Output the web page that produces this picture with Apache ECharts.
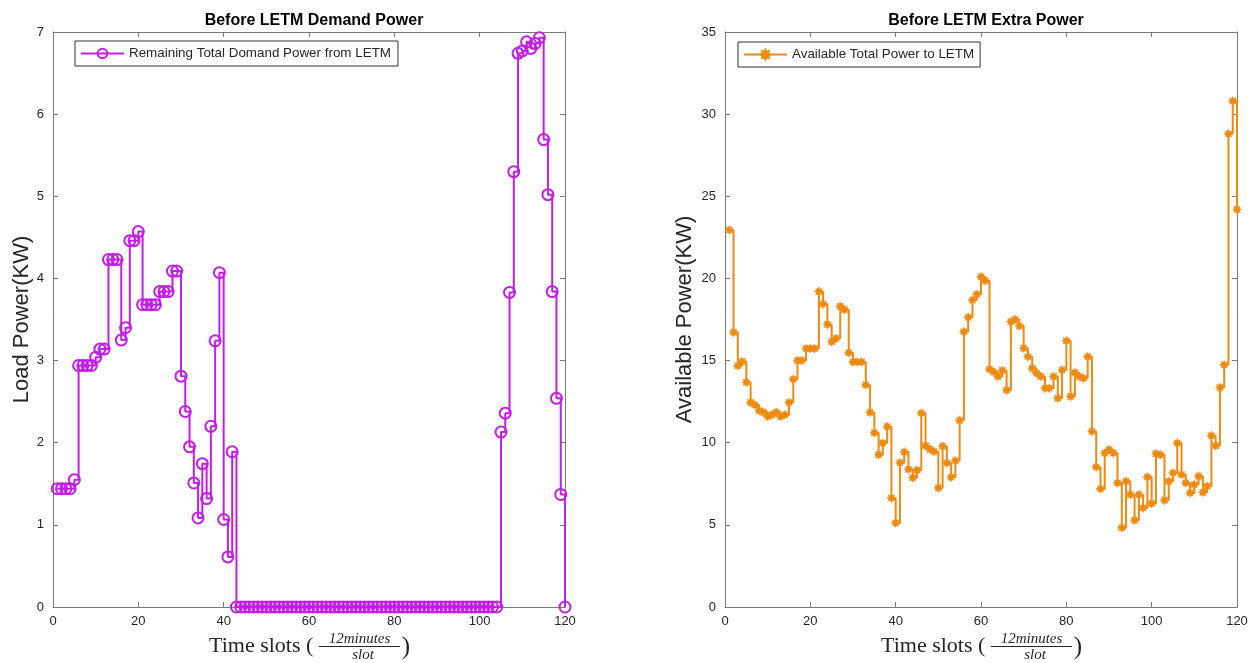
<!DOCTYPE html>
<html>
<head>
<meta charset="utf-8">
<script src="https://cdn.jsdelivr.net/npm/echarts@6/dist/echarts.min.js"></script>
<style>
html,body{margin:0;padding:0;background:#fff;}
#chart{width:1255px;height:663px;}
</style>
</head>
<body>
<div id="chart"></div>
<script>
// ---------- DATA ----------
const leftTitle = 'Before LETM Demand Power';
const rightTitle = 'Before LETM Extra Power';
const leftSeriesName = 'Remaining Total Domand Power from LETM';
const rightSeriesName = 'Available Total Power to LETM';
const leftYName = 'Load Power(KW)';
const rightYName = 'Available Power(KW)';
const xLabelMain = 'Time slots (';
const xLabelNum = '12minutes';
const xLabelDen = 'slot';

// time slots 1..120
const demandPower = [
  1.44, 1.44, 1.44, 1.44, 1.55, 2.94, 2.94, 2.94, 2.94, 3.04,
  3.14, 3.14, 4.23, 4.23, 4.23, 3.25, 3.40, 4.46, 4.46, 4.57,
  3.68, 3.68, 3.68, 3.68, 3.84, 3.84, 3.84, 4.09, 4.09, 2.81,
  2.38, 1.95, 1.51, 1.085, 1.745, 1.32, 2.20, 3.24, 4.07, 1.065,
  0.61, 1.89, 0, 0, 0, 0, 0, 0, 0, 0,
  0, 0, 0, 0, 0, 0, 0, 0, 0, 0,
  0, 0, 0, 0, 0, 0, 0, 0, 0, 0,
  0, 0, 0, 0, 0, 0, 0, 0, 0, 0,
  0, 0, 0, 0, 0, 0, 0, 0, 0, 0,
  0, 0, 0, 0, 0, 0, 0, 0, 0, 0,
  0, 0, 0, 0, 2.13, 2.36, 3.83, 5.30, 6.74, 6.77,
  6.88, 6.80, 6.86, 6.93, 5.69, 5.02, 3.84, 2.54, 1.37, 0
];

const extraPower = [
  22.95, 16.72, 14.68, 14.94, 13.68, 12.45, 12.30, 11.95, 11.85, 11.60,
  11.70, 11.85, 11.60, 11.70, 12.45, 13.87, 15.00, 15.00, 15.73, 15.73,
  15.73, 19.20, 18.45, 17.20, 16.15, 16.35, 18.30, 18.10, 15.48, 14.92,
  14.92, 14.92, 13.52, 11.84, 10.60, 9.27, 9.98, 10.98, 6.64, 5.12,
  8.78, 9.43, 8.38, 7.87, 8.32, 11.80, 9.82, 9.60, 9.46, 7.25,
  9.78, 8.77, 7.90, 8.91, 11.36, 16.76, 17.63, 18.68, 19.03, 20.10,
  19.86, 14.47, 14.30, 14.03, 14.40, 13.20, 17.37, 17.50, 17.10, 15.75,
  15.24, 14.53, 14.23, 14.03, 13.32, 13.32, 14.03, 12.71, 14.43, 16.21,
  12.81, 14.27, 14.03, 13.93, 15.24, 10.69, 8.52, 7.19, 9.37, 9.57,
  9.37, 7.55, 4.82, 7.65, 6.84, 5.28, 6.84, 6.03, 7.91, 6.30,
  9.33, 9.27, 6.50, 7.65, 8.16, 9.98, 8.06, 7.55, 6.94, 7.45,
  7.96, 6.98, 7.35, 10.43, 9.82, 13.36, 14.74, 28.80, 30.80, 24.20
];

// ---------- STYLE ----------
const purple = '#c21ee6';
const orange = '#ee8a10';
const axisCol = '#7a7a7a';
const textCol = '#262626';
const sans = '"Liberation Sans", Arial, sans-serif';
const serif = '"Liberation Serif", "Times New Roman", serif';

// asterisk-like star symbol
function starPath(n) {
  let d = '';
  for (let i = 0; i < n * 2; i++) {
    const r = (i % 2 === 0) ? 10 : 6;
    const a = Math.PI * i / n - Math.PI / 2;
    const x = (10 + r * Math.cos(a)).toFixed(2);
    const y = (10 + r * Math.sin(a)).toFixed(2);
    d += (i === 0 ? 'M' : 'L') + x + ' ' + y + ' ';
  }
  return 'path://' + d + 'Z';
}
const starSym = starPath(8);

const grids = [
  {left: 53, right: 690, top: 32, bottom: 56},
  {left: 725, right: 18, top: 32, bottom: 56}
];

function xAxisPair(gi) {
  const base = {
    type: 'value', min: 0, max: 120, interval: 20, gridIndex: gi,
    axisLine: {show: true, onZero: false, lineStyle: {color: axisCol, width: 1}},
    axisTick: {show: true, inside: true, length: 5, lineStyle: {color: axisCol}},
    splitLine: {show: false}
  };
  return [
    Object.assign({}, base, {position: 'bottom',
      axisLabel: {color: textCol, fontSize: 13, fontFamily: sans, margin: 8}}),
    Object.assign({}, base, {position: 'top', axisLabel: {show: false}})
  ];
}
function yAxisPair(gi, max, interval, name, gap) {
  const base = {
    type: 'value', min: 0, max: max, interval: interval, gridIndex: gi,
    axisLine: {show: true, onZero: false, lineStyle: {color: axisCol, width: 1}},
    axisTick: {show: true, inside: true, length: 5, lineStyle: {color: axisCol}},
    splitLine: {show: false}
  };
  return [
    Object.assign({}, base, {position: 'left',
      name: name, nameLocation: 'middle', nameGap: gap,
      nameTextStyle: {color: textCol, fontSize: 22, fontFamily: sans},
      axisLabel: {color: textCol, fontSize: 13, fontFamily: sans, margin: 9}}),
    Object.assign({}, base, {position: 'right', axisLabel: {show: false}})
  ];
}

function xLabelGraphic(ox) {
  return [
    {type: 'text', left: 209 + ox, top: 635,
     style: {text: xLabelMain, font: '22px ' + serif, fill: textCol}},
    {type: 'text', x: 359.5 + ox, y: 639,
     style: {text: xLabelNum, font: 'italic 15px ' + serif, fill: textCol,
             textAlign: 'center', textVerticalAlign: 'middle'}},
    {type: 'line', shape: {x1: 319 + ox, y1: 646.5, x2: 400 + ox, y2: 646.5},
     style: {stroke: textCol, lineWidth: 1}},
    {type: 'text', x: 363 + ox, y: 655,
     style: {text: xLabelDen, font: 'italic 15px ' + serif, fill: textCol,
             textAlign: 'center', textVerticalAlign: 'middle'}},
    {type: 'text', x: 406 + ox, y: 647,
     style: {text: ')', font: '25px ' + serif, fill: textCol,
             textAlign: 'center', textVerticalAlign: 'middle'}}
  ];
}

const chart = echarts.init(document.getElementById('chart'), null, {renderer: 'canvas'});
const xs = xAxisPair(0).concat(xAxisPair(1));
const ys = yAxisPair(0, 7, 1, leftYName, 20).concat(yAxisPair(1, 35, 5, rightYName, 29));

chart.setOption({
  backgroundColor: '#ffffff',
  animation: false,
  title: [
    {text: leftTitle, left: 309, top: 8, textAlign: 'center',
     textStyle: {fontSize: 16, fontWeight: 'bold', color: '#000', fontFamily: sans}},
    {text: rightTitle, left: 981, top: 8, textAlign: 'center',
     textStyle: {fontSize: 16, fontWeight: 'bold', color: '#000', fontFamily: sans}}
  ],
  legend: [
    {data: [leftSeriesName], left: 75, top: 41, orient: 'vertical',
     padding: [6, 7, 6, 5], itemWidth: 43, itemHeight: 12,
     borderColor: '#333', borderWidth: 1, backgroundColor: '#fff', borderRadius: 0,
     textStyle: {fontSize: 13.4, color: textCol, fontFamily: sans}},
    {data: [rightSeriesName], left: 738, top: 42, orient: 'vertical',
     padding: [6, 6, 6, 5], itemWidth: 43, itemHeight: 12,
     borderColor: '#333', borderWidth: 1, backgroundColor: '#fff', borderRadius: 0,
     textStyle: {fontSize: 13.4, color: textCol, fontFamily: sans}}
  ],
  grid: grids,
  xAxis: xs,
  yAxis: ys,
  graphic: xLabelGraphic(0).concat(xLabelGraphic(672)),
  series: [
    {
      name: leftSeriesName, type: 'line', xAxisIndex: 0, yAxisIndex: 0,
      step: 'end',
      data: demandPower.map((v, i) => [i + 1, v]),
      symbol: 'circle', symbolSize: 11,
      color: purple,
      lineStyle: {color: purple, width: 2},
      itemStyle: {color: 'rgba(255,255,255,0)', borderColor: purple, borderWidth: 2}
    },
    {
      name: rightSeriesName, type: 'line', xAxisIndex: 2, yAxisIndex: 2,
      step: 'end',
      data: extraPower.map((v, i) => [i + 1, v]),
      symbol: starSym, symbolSize: 9,
      color: orange,
      lineStyle: {color: orange, width: 2},
      itemStyle: {color: orange, borderColor: orange, borderWidth: 0.5}
    }
  ]
});
</script>
</body>
</html>
